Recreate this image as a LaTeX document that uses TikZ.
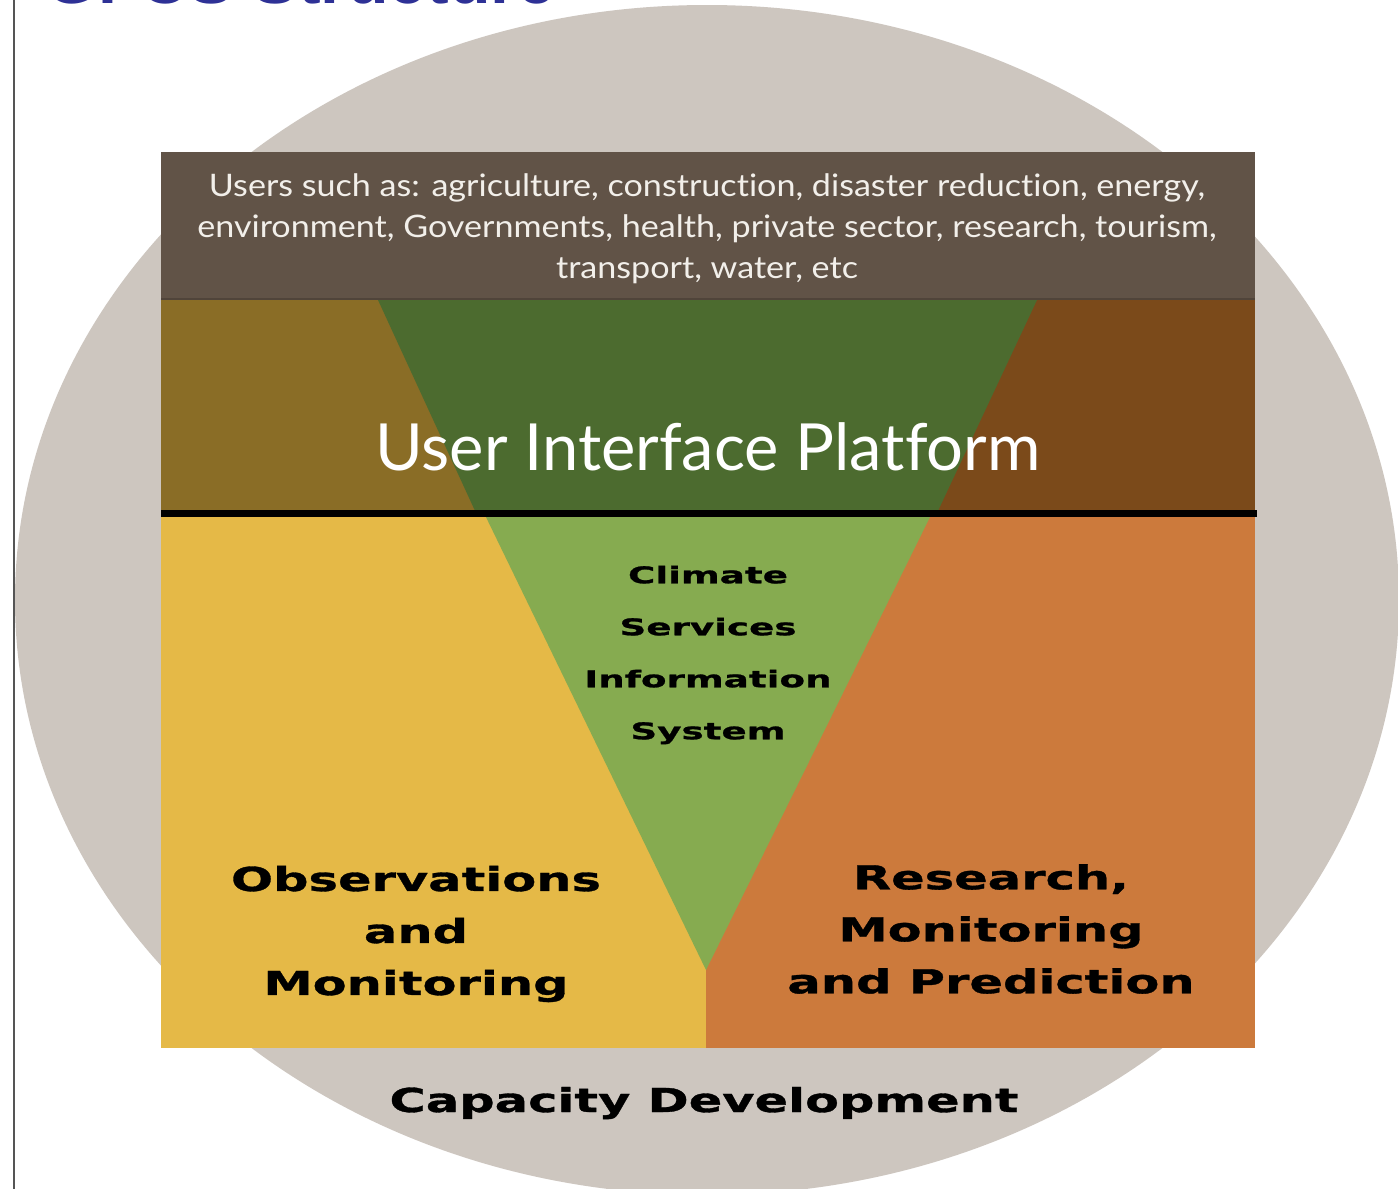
\documentclass[tikz,border=0pt]{standalone}
\usepackage{fontspec}
\setmainfont{Lato}[Ligatures=NoCommon]
\newfontfamily\usersfont[FakeStretch=1.1, Ligatures=NoCommon]{Lato}
\newfontfamily\pillarfont[FakeStretch=1.5, FakeBold=1]{DejaVu Sans Bold}
\newfontfamily\cisfont[FakeStretch=1.62, FakeBold=1]{DejaVu Sans Bold}
\newfontfamily\titlefont{Liberation Sans}

\definecolor{ringgray}{RGB}{205,198,191}
\definecolor{framegray}{RGB}{85,85,85}
\definecolor{usersbrown}{RGB}{97,83,71}
\definecolor{usersedge}{RGB}{80,68,58}
\definecolor{bandolive}{RGB}{138,109,38}
\definecolor{bandgreen}{RGB}{76,107,47}
\definecolor{bandbrown}{RGB}{123,74,26}
\definecolor{obsyellow}{RGB}{229,185,71}
\definecolor{cisgreen}{RGB}{134,171,80}
\definecolor{rmporange}{RGB}{204,122,60}
\definecolor{titleblue}{RGB}{46,49,150}

\tikzset{
  userstext/.style={inner sep=0, align=center, text={rgb,255:red,242;green,239;blue,234},
    font=\usersfont\fontsize{31}{41}\selectfont},
  platformtext/.style={inner sep=0, text=white, font=\fontsize{65}{70}\selectfont},
  cistext/.style={inner sep=0, align=center, font=\cisfont\fontsize{23}{52}\selectfont},
  pillartext/.style={inner sep=0, align=center, font=\pillarfont\fontsize{33}{52}\selectfont},
  titletext/.style={inner sep=0, text=titleblue, font=\titlefont\bfseries\fontsize{68}{70}\selectfont}
}

\begin{document}
\begin{tikzpicture}[x=1pt,y=-1pt]
  \useasboundingbox (0,0) rectangle (1398,1189);
  \fill[white] (0,0) rectangle (1398,1189);
  % Ring and frame
  \fill[ringgray] (707,600) ellipse [x radius=692, y radius=595];
  \draw[framegray, line width=2pt] (13.5,0) -- (13.5,1189);
  \node[titletext, anchor=base west] (title) at (45,3) {GFCS Structure};
  % Users
  \fill[usersbrown] (161,152) rectangle (1255,300);
  \draw[usersedge, line width=2pt] (161,299) -- (1255,299);
  % Platform band
  \fill[bandolive] (161,300) rectangle (707,513);
  \fill[bandbrown] (707,300) rectangle (1255,513);
  \fill[bandgreen] (378,300) -- (1037,300) -- (937,513) -- (476,513) -- cycle;
  % Pillars
  \fill[obsyellow] (161,513) rectangle (706,1048);
  \fill[rmporange] (706,513) rectangle (1255,1048);
  \fill[cisgreen] (484,513) -- (932,513) -- (706,970) -- cycle;
  \draw[line width=6.5pt] (161,513.5) -- (1257,513.5);
  % Labels
  \node[userstext] (users) at (707,229) {Users such as: agriculture, construction, disaster reduction, energy,\\
    environment, Governments, health, private sector, research, tourism,\\ transport, water, etc};
  \node[platformtext, anchor=base] (uip) at (708,470) {User Interface Platform};
  \node[cistext] (cis) at (708,655) {Climate\\Services\\Information\\System};
  \node[pillartext] (obs) at (416,934) {Observations\\and\\Monitoring};
  \node[pillartext] (rmp) at (991,929) {Research,\\Monitoring\\and Prediction};
  \node[pillartext, anchor=base] (cap) at (704,1112) {Capacity Development};
\end{tikzpicture}
\end{document}
